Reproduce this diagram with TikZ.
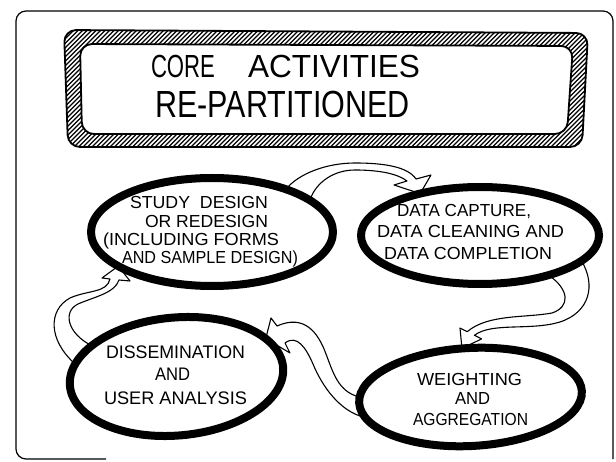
\documentclass[tikz,border=0pt]{standalone}
\usepackage{fontspec}
\setmainfont{Liberation Sans}
\usetikzlibrary{shapes.geometric}
\pgfdeclarelayer{paper}
\pgfdeclarelayer{ribbons}
\pgfsetlayers{paper,ribbons,main}
% hand-lettered line: font size, width, cap height, text
\newcommand\lettering[4]{{\fontsize{#1}{#1}\selectfont\resizebox{#2}{#3}{\vphantom{E}\smash{#4}}}}
\begin{document}
\begin{tikzpicture}[x=1pt,y=-1pt,
  bubble/.style={draw, ellipse, line width=8pt, inner sep=0pt, outer sep=0pt},
  ribbon/.style={draw, fill=white, line width=1.1pt, line join=round},
  letters/.style={anchor=base west, inner sep=0pt, outer sep=0pt},
  band/.style={line width=1.8pt, line join=round, rounded corners=12pt}]
\begin{pgfonlayer}{paper}
\fill[white] (0,0) rectangle (616,462);
\end{pgfonlayer}
\useasboundingbox (0,0) rectangle (616,462);

% page frame
\draw[line width=1.2pt, rounded corners=10pt] (106,459) -- (16,459) -- (16,11) -- (613,11) -- (613,459);

% hatched title banner
\begin{scope}[even odd rule, rounded corners=12pt]
  \clip (64,30) -- (588,33) -- (582,147) -- (68,147) -- cycle
        (80,44) -- (573,46) -- (567,134) -- (82,134) -- cycle;
  \foreach \i in {-110,-105.5,...,600} \draw[line width=1.4pt, sharp corners] (\i,160) -- (\i+140,20);
\end{scope}
\draw[band] (64,30) -- (588,33) -- (582,147) -- (68,147) -- cycle;
\draw[band] (80,44) -- (573,46) -- (567,134) -- (82,134) -- cycle;

\node[letters] (title1) at (151,78) {\lettering{30}{64pt}{22pt}{CORE}\hspace{33pt}\lettering{30}{172pt}{22pt}{ACTIVITIES}};
\node[letters] (title2) at (155,118) {\lettering{34}{255pt}{26pt}{RE-PARTITIONED}};

% activity bubbles (outlines only; labels set separately)
\node[bubble, minimum width=242pt, minimum height=108pt] (e1) at (212,232) {};
\node[bubble, minimum width=238pt, minimum height=97pt]  (e2) at (480,235.5) {};
\node[bubble, minimum width=214pt, minimum height=118pt, rotate=5] (e3) at (176.5,376.5) {};
\node[bubble, minimum width=223pt, minimum height=98pt, rotate=3]  (e4) at (470.5,397) {};

% ribbon arrows between the bubbles, tucked under the bubble outlines
\begin{pgfonlayer}{ribbons}
\draw[ribbon] (e1.30) .. controls (298,174) and (326,163) .. (355,163)
  .. controls (385,163) and (408,167) .. (416,179) -- (431,175) -- (e2.145)
  -- (394,185) -- (407,181) .. controls (398,174) and (380,170) .. (355,170)
  .. controls (334,170) and (316,182) .. (e1.18) -- cycle;
\draw[ribbon] (e2.-14) .. controls (596,285) and (590,312) .. (560,322)
  .. controls (530,331) and (492,322) .. (474.4,335.3) -- (481.6,338.9) -- (e4.97)
  -- (460,328) -- (467.2,331.7) .. controls (488,314) and (525,318) .. (552,313)
  .. controls (570,307) and (570,290) .. (e2.-30) -- cycle;
\draw[ribbon] (e4.177) .. controls (338,392) and (333,372) .. (326,354)
  .. controls (318,332) and (304,314) .. (277,326) -- (271,318) -- (e3.18)
  -- (290,353) -- (285,343) .. controls (297,334) and (306,348) .. (313,364)
  .. controls (322,386) and (340,412) .. (e4.188) -- cycle;
\draw[ribbon] (e3.168) .. controls (48,340) and (48,310) .. (70,298)
  .. controls (88,290) and (107,293) .. (110,279) -- (102,278) -- (e1.200)
  -- (130,281) -- (119,280) .. controls (115,293) and (94,297) .. (78,304)
  .. controls (62,312) and (68,334) .. (e3.155) -- cycle;
\end{pgfonlayer}

% bubble labels
\node[letters] (s1) at (130,209) {\lettering{17}{138pt}{12pt}{STUDY\ \ DESIGN}};
\node[letters] (s2) at (145,228) {\lettering{17}{123pt}{12pt}{OR REDESIGN}};
\node[letters] (s3) at (103,246) {\lettering{17}{176pt}{12pt}{(INCLUDING FORMS}};
\node[letters] (s4) at (122,264) {\lettering{17}{176pt}{12pt}{AND SAMPLE DESIGN)}};

\node[letters] (d1) at (397,217) {\lettering{17}{134pt}{12pt}{DATA CAPTURE,}};
\node[letters] (d2) at (377,238) {\lettering{17}{187pt}{12pt}{DATA CLEANING AND}};
\node[letters] (d3) at (384,260) {\lettering{17}{168pt}{12pt}{DATA COMPLETION}};

\node[letters] (u1) at (106,359) {\lettering{17}{139pt}{12.5pt}{DISSEMINATION}};
\node[letters] (u2) at (155,381) {\lettering{17}{35pt}{12.5pt}{AND}};
\node[letters] (u3) at (104,404) {\lettering{17}{143pt}{12.5pt}{USER ANALYSIS}};

\node[letters] (w1) at (417,385) {\lettering{17}{105pt}{12pt}{WEIGHTING}};
\node[letters] (w2) at (455,404) {\lettering{17}{35pt}{12pt}{AND}};
\node[letters] (w3) at (413,425) {\lettering{17}{115pt}{12pt}{AGGREGATION}};
\end{tikzpicture}
\end{document}
